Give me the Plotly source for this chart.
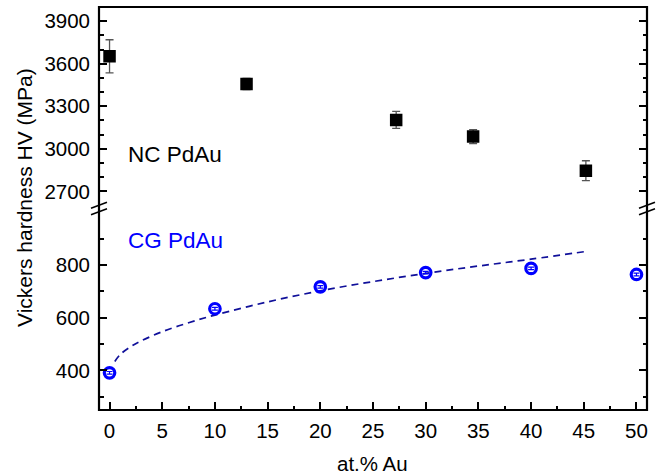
import plotly.graph_objects as go

# ---------------- data ----------------
nc_x = [0, 13, 27.2, 34.5, 45.2]
nc_y = [3652, 3457, 3204, 3086, 2846]
nc_err = [117, 40, 60, 50, 70]

cg_x = [0, 10, 20, 30, 40, 50]
cg_y = [391, 634, 717, 771, 787, 764]
cg_err = [5, 5, 5, 5, 5, 5]

fit_x = [0.5, 1, 2, 3, 5, 7.5, 10, 15, 20, 25, 30, 35, 40, 45.5]
fit_y = [434, 460, 490, 512, 547, 581, 610, 660, 702, 737, 768, 796, 822, 853]

x_ticks = [0, 5, 10, 15, 20, 25, 30, 35, 40, 45, 50]
x_minor = [2.5, 7.5, 12.5, 17.5, 22.5, 27.5, 32.5, 37.5, 42.5, 47.5]
top_ticks = [2700, 3000, 3300, 3600, 3900]
top_minor = [2800, 2900, 3100, 3200, 3400, 3500, 3700, 3800]
bot_ticks = [400, 600, 800]
bot_minor = [300, 500, 700, 900]

FONT = "Arial, 'Liberation Sans', sans-serif"

# ---------------- geometry ----------------
W, H = 662, 476
ML, MR, MT, MB = 99, 15, 7, 66
PW, PH = W - ML - MR, H - MT - MB


def px(xp):
    return (xp - ML) / PW


def py(yp):
    return (H - MB - yp) / PH


fig = go.Figure()

fig.add_trace(go.Scatter(
    x=fit_x, y=fit_y, xaxis="x", yaxis="y", mode="lines",
    line=dict(color="#10109a", width=1.7, dash="7px,5px", shape="spline"),
    hoverinfo="skip", showlegend=False))

fig.add_trace(go.Scatter(
    x=cg_x, y=cg_y, xaxis="x", yaxis="y", mode="markers",
    marker=dict(symbol="circle-open", size=10.5, color="#0000FF",
                line=dict(width=3.2, color="#0000FF")),
    error_y=dict(type="data", array=cg_err, color="#0000FF", thickness=1.2, width=3),
    showlegend=False))

fig.add_trace(go.Scatter(
    x=nc_x, y=nc_y, xaxis="x", yaxis="y2", mode="markers",
    marker=dict(symbol="square", size=12.5, color="#000000"),
    error_y=dict(type="data", array=nc_err, color="#555555", thickness=1.3, width=4),
    showlegend=False))

tickfont = dict(family=FONT, size=20.5, color="#000000")
common_y = dict(showline=False, zeroline=False, showgrid=False, ticks="inside",
                ticklen=8, tickwidth=1.8, tickcolor="#000000", mirror="ticks",
                tickfont=tickfont, ticklabelstandoff=8)
common_x = dict(showline=False, zeroline=False, showgrid=False, ticks="inside",
                ticklen=8, tickwidth=1.8, tickcolor="#000000", tickfont=tickfont,
                range=[-1, 51], tickmode="array", tickvals=x_ticks,
                minor=dict(tickmode="array", tickvals=x_minor, ticks="inside",
                           ticklen=4.5, tickwidth=1.8, tickcolor="#000000"))

fig.update_layout(
    width=W, height=H,
    margin=dict(l=ML, r=MR, t=MT, b=MB),
    paper_bgcolor="white", plot_bgcolor="white",
    font=dict(family=FONT, color="#000000"),
    xaxis=dict(anchor="y", ticklabelstandoff=6, **common_x),
    xaxis2=dict(anchor="y2", matches="x", side="top", showticklabels=False, **common_x),
    yaxis=dict(anchor="x", domain=[0, py(212.5)], range=[250, 999],
               tickmode="array", tickvals=bot_ticks,
               minor=dict(tickmode="array", tickvals=bot_minor, ticks="inside",
                          ticklen=4.5, tickwidth=1.8, tickcolor="#000000"),
               **common_y),
    yaxis2=dict(anchor="x", domain=[py(205.4), 1], range=[2601, 4000],
                tickmode="array", tickvals=top_ticks,
                minor=dict(tickmode="array", tickvals=top_minor, ticks="inside",
                           ticklen=4.5, tickwidth=1.8, tickcolor="#000000"),
                **common_y),
)

shapes = [dict(type="rect", xref="paper", yref="paper", x0=0, x1=1, y0=0, y1=1,
               line=dict(color="#000000", width=2.2), layer="above")]
for xc in (ML, ML + PW):
    for yc in (205.2, 211.8):
        shapes.append(dict(type="line", xref="paper", yref="paper",
                           x0=px(xc - 8), y0=py(yc + 3), x1=px(xc + 8), y1=py(yc - 3),
                           line=dict(color="#000000", width=1.6), layer="above"))
fig.update_layout(shapes=shapes)

ann = [
    dict(text="NC PdAu", x=px(126), y=py(154), xref="paper", yref="paper",
         xanchor="left", yanchor="middle", showarrow=False,
         font=dict(family=FONT, size=22.5, color="#000000")),
    dict(text="CG PdAu", x=px(126), y=py(241), xref="paper", yref="paper",
         xanchor="left", yanchor="middle", showarrow=False,
         font=dict(family=FONT, size=22.5, color="#0000FF")),
    dict(text="at.% Au", x=px(372), y=py(463), xref="paper", yref="paper",
         xanchor="center", yanchor="middle", showarrow=False,
         font=dict(family=FONT, size=20.5, color="#000000")),
    dict(text="Vickers hardness HV (MPa)", x=px(24.5), y=py(197.5), xref="paper",
         yref="paper", xanchor="center", yanchor="middle", showarrow=False,
         textangle=-90, font=dict(family=FONT, size=21, color="#000000")),
]
fig.update_layout(annotations=ann)

fig.write_html("out.html", config={"displayModeBar": False},
               post_script="document.body.style.margin='0px';document.body.style.padding='0px';")
